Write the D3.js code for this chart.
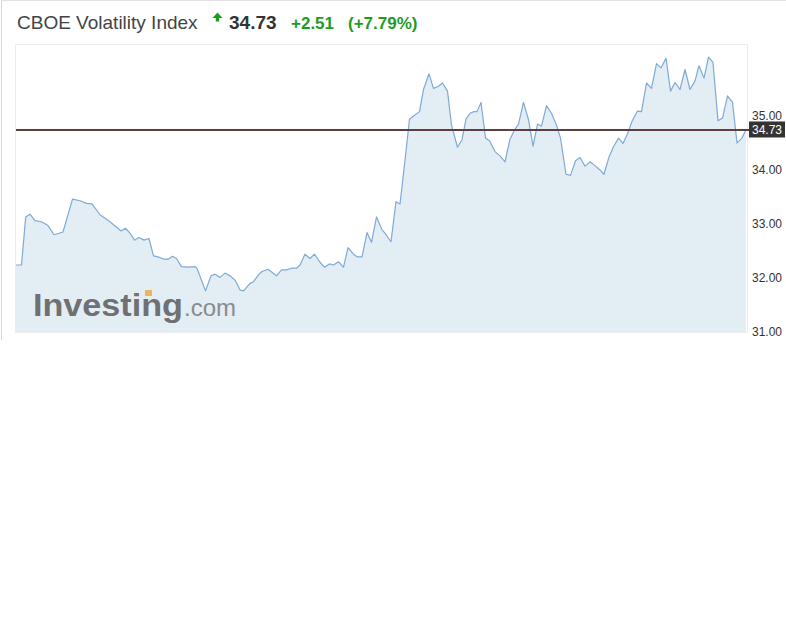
<!DOCTYPE html>
<html>
<head>
<meta charset="utf-8">
<script src="https://cdn.jsdelivr.net/npm/d3@7/dist/d3.min.js"></script>
<style>
  html, body { margin: 0; padding: 0; background: #fff; }
  svg { display: block; font-family: "Liberation Sans", Arial, sans-serif; }
</style>
</head>
<body>
<svg id="chart" width="786" height="636"></svg>
<script>
// ---- data ----
const title = "CBOE Volatility Index";
const lastPrice = 34.73;
const change = "+2.51";
const changePct = "(+7.79%)";

// minutes since session start
const minutes = [
  0,2.75,4.85,7,9.5,12.75,16,19,23.5,28.25,
  32,35.25,38,42,47,52.5,54.75,57,59.25,61.5,
  64,66.5,68.75,71,73.75,76.25,78.25,80.25,82.75,86.25,
  89.5,90.5,94.75,97.5,99.5,102,104.5,107,109.5,112,
  113.75,117,118.75,121.5,123,126,130.25,132.75,135.25,137.75,
  140.25,142,144.5,147,149.25,152,154.25,156.75,158.75,161.25,
  163.75,166,168.75,170.75,173,175.5,177.75,180.25,183,184.5,
  187.5,190,192,194.5,196.75,198.75,201.75,203.75,206.5,208.75,
  211.25,213.25,215.75,217.75,220.75,223,225,227,229,230.5,
  232.5,234.75,236.75,239.5,242,244.5,247,249.25,251.25,253.75,
  256.25,258.5,260.75,262.75,265.25,267.75,270.25,272.25,275,277.25,
  279.75,282,284.5,287,289.5,292,294,296.5,298.75,301.25,
  303.5,305.75,308,310.75,312.75,315.25,317.75,320.25,322.5,325,
  327.25,329.5,332,334.5,337,339.5,341.5,344,346.25,348.5,
  351,353.25,355.75,358.25,360.5,362.75,365
];
const prices = [
  32.23,32.23,33.12,33.17,33.05,33.03,32.96,32.79,32.84,33.45,
  33.42,33.37,33.36,33.16,33.03,32.86,32.91,32.82,32.69,32.74,
  32.69,32.72,32.40,32.38,32.34,32.34,32.39,32.35,32.20,32.19,
  32.20,32.17,31.75,32.03,32.06,32.00,32.08,32.03,31.95,31.77,
  31.75,31.89,31.92,32.06,32.11,32.15,32.03,32.14,32.14,32.17,
  32.17,32.23,32.43,32.35,32.43,32.28,32.19,32.25,32.23,32.29,
  32.19,32.55,32.43,32.38,32.38,32.83,32.65,33.12,32.88,32.82,
  32.66,33.40,33.36,34.17,34.93,34.99,35.07,35.48,35.77,35.50,
  35.54,35.60,35.45,34.82,34.41,34.55,34.93,35.04,35.07,35.07,
  35.24,34.58,34.53,34.33,34.25,34.14,34.56,34.73,34.84,35.24,
  34.92,34.43,34.84,34.80,35.18,35.04,34.82,34.58,33.91,33.89,
  34.16,34.22,34.06,34.14,34.07,33.99,33.91,34.23,34.42,34.58,
  34.48,34.66,34.89,35.08,35.07,35.60,35.50,35.96,35.88,36.06,
  35.45,35.61,35.48,35.85,35.48,35.64,35.92,35.69,36.08,35.98,
  34.90,34.95,35.36,35.24,34.49,34.57,34.73
];
const yTicks = [31, 32, 33, 34, 35];
const yTickLabels = ["31.00", "32.00", "33.00", "34.00", "35.00"];

// ---- layout ----
const svg = d3.select("#chart");
const plot = { left: 16, right: 747, top: 44, bottom: 332 };

const x = d3.scaleLinear().domain([0, 365]).range([plot.left, 746]);
const y = d3.scaleLinear().domain([31, 35]).range([331.4, 115.4]);

const data = minutes.map((m, i) => ({ t: m, v: prices[i] }));

// widget frame
svg.append("line").attr("x1", 1.5).attr("x2", 1.5).attr("y1", 0).attr("y2", 340)
  .attr("stroke", "#d6d6d6").attr("stroke-width", 1);
svg.append("line").attr("x1", 1).attr("x2", 786).attr("y1", 0.5).attr("y2", 0.5)
  .attr("stroke", "#e2e2e2").attr("stroke-width", 1);

// plot border
svg.append("rect")
  .attr("x", plot.left - 0.5).attr("y", plot.top + 0.5)
  .attr("width", plot.right - plot.left + 1).attr("height", plot.bottom - plot.top)
  .attr("fill", "#fff").attr("stroke", "#ececec").attr("stroke-width", 1);

// area
const area = d3.area()
  .x(d => x(d.t))
  .y0(plot.bottom)
  .y1(d => y(d.v));
svg.append("path").datum(data)
  .attr("d", area)
  .attr("fill", "#e3edf4");

// Investing.com logo watermark
const logo = svg.append("g");
logo.append("text")
  .attr("x", 33).attr("y", 316)
  .attr("font-size", 31).attr("font-weight", "bold")
  .attr("fill", "#6f7072")
  .attr("textLength", 150).attr("lengthAdjust", "spacingAndGlyphs")
  .text("Investing");
logo.append("rect").attr("x", 145).attr("y", 290).attr("width", 7).attr("height", 6)
  .attr("fill", "#f2b35b");
logo.append("text")
  .attr("x", 184).attr("y", 316)
  .attr("font-size", 24)
  .attr("fill", "#8a8b8d")
  .attr("textLength", 52).attr("lengthAdjust", "spacingAndGlyphs")
  .text(".com");

// line
const line = d3.line().x(d => x(d.t)).y(d => y(d.v));
svg.append("path").datum(data)
  .attr("d", line)
  .attr("fill", "none")
  .attr("stroke", "#7eaad8")
  .attr("stroke-width", 1.2)
  .attr("stroke-linejoin", "round");

// last price line
svg.append("line")
  .attr("x1", plot.left).attr("x2", 749)
  .attr("y1", y(lastPrice)).attr("y2", y(lastPrice))
  .attr("stroke", "#5c4040").attr("stroke-width", 2);

// y axis
const yAxis = d3.axisRight(y).tickValues(yTicks).tickSize(0).tickPadding(0)
  .tickFormat((d, i) => yTickLabels[i]);
const ax = svg.append("g").attr("transform", `translate(752,0)`).call(yAxis);
ax.select(".domain").remove();
ax.selectAll("text").attr("font-size", 12).attr("fill", "#333")
  .attr("font-family", "'Liberation Sans', Arial, sans-serif");

// last price label
svg.append("rect").attr("x", 749).attr("y", y(lastPrice) - 8.5).attr("width", 36).attr("height", 16)
  .attr("fill", "#333");
svg.append("text").attr("x", 767).attr("y", y(lastPrice) + 4).attr("text-anchor", "middle")
  .attr("font-size", 12).attr("fill", "#fff").text(lastPrice.toFixed(2));

// header
svg.append("text").attr("x", 17).attr("y", 29)
  .attr("font-size", 19).attr("fill", "#444").text(title);
svg.append("path")
  .attr("d", "M217.5,12.5 L222.5,18 L219.2,18 L219.2,21.5 L215.8,21.5 L215.8,18 L212.5,18 Z")
  .attr("fill", "#1f9c1f");
svg.append("text").attr("x", 229).attr("y", 29)
  .attr("font-size", 19).attr("font-weight", "bold").attr("fill", "#333").text(lastPrice.toFixed(2));
svg.append("text").attr("x", 291).attr("y", 29)
  .attr("font-size", 17).attr("font-weight", "bold").attr("fill", "#1f9c1f").text(change);
svg.append("text").attr("x", 348).attr("y", 29)
  .attr("font-size", 17).attr("font-weight", "bold").attr("fill", "#1f9c1f").text(changePct);
</script>
</body>
</html>
